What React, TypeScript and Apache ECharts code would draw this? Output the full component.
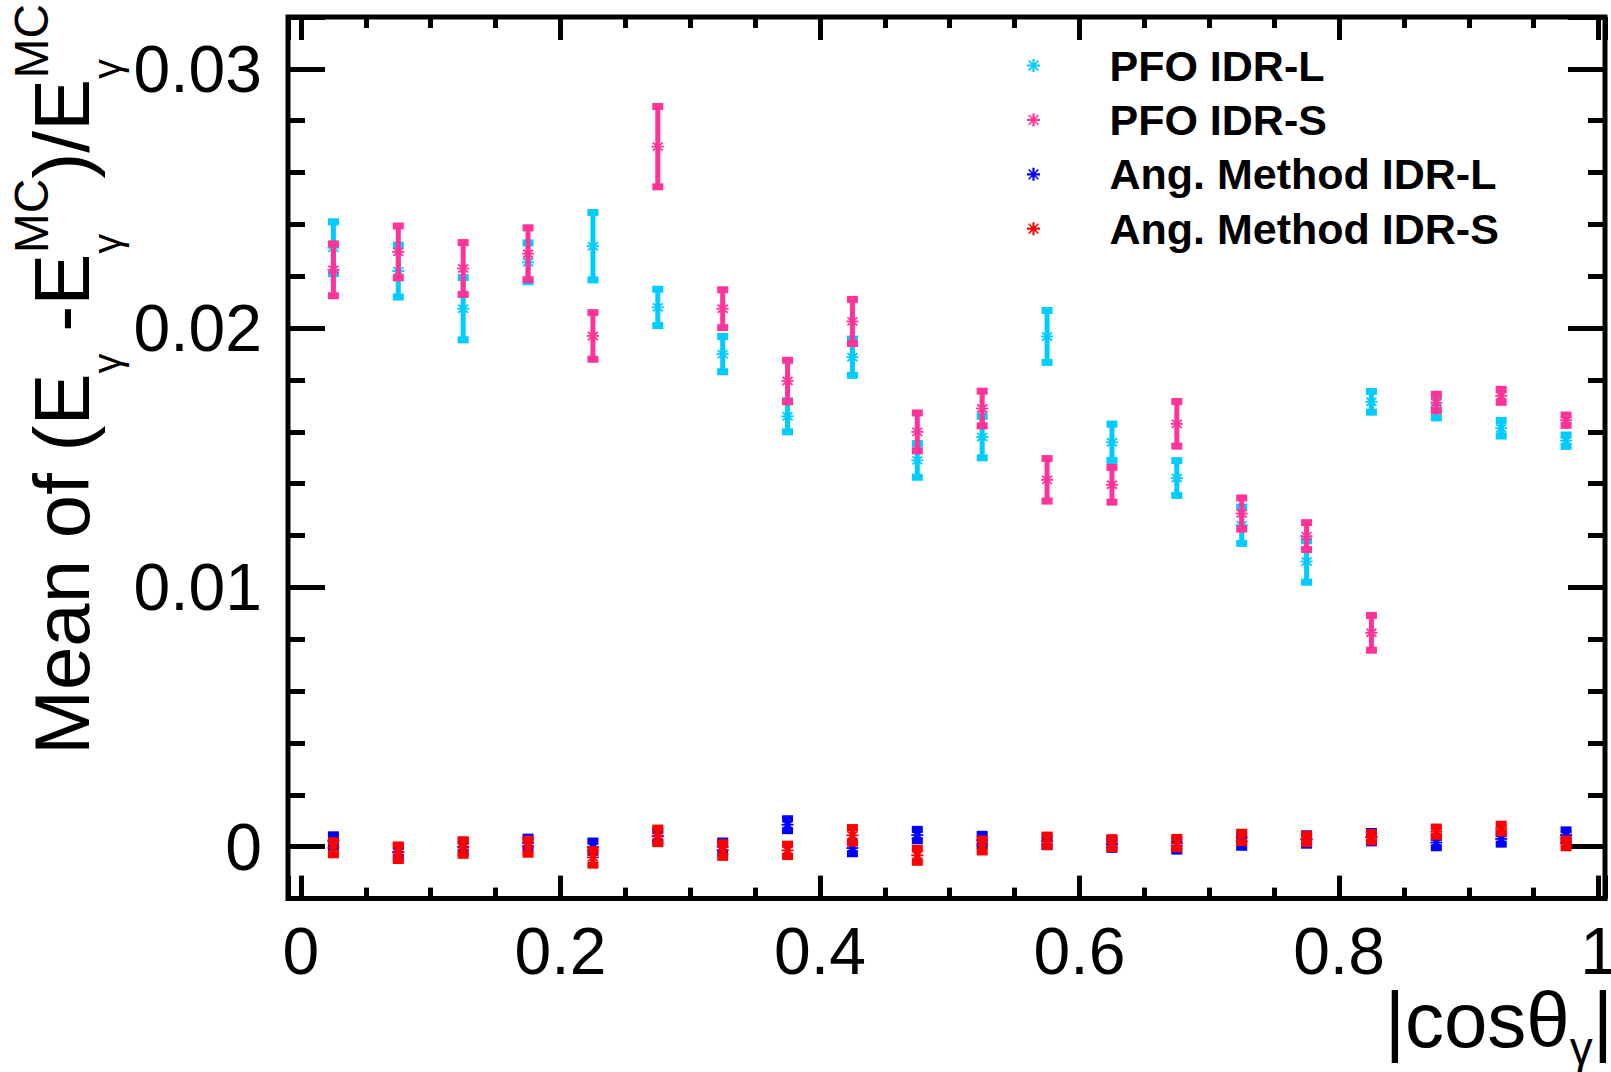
import React, { useEffect, useRef } from 'react';
import * as echarts from 'echarts';

const FONT = '"Liberation Sans", Arial, Helvetica, sans-serif';

const X_BINS = [0.025, 0.075, 0.125, 0.175, 0.225, 0.275, 0.325, 0.375, 0.425, 0.475, 0.525, 0.575, 0.625, 0.675, 0.725, 0.775, 0.825, 0.875, 0.925, 0.975];

const PFO_L_MEAN = [0.0231, 0.0222, 0.02075, 0.02254, 0.02316, 0.0208, 0.019, 0.0166, 0.01888, 0.0149, 0.0158, 0.01968, 0.0156, 0.01422, 0.0124, 0.011, 0.01716, 0.01694, 0.01614, 0.01566];
const PFO_L_ERR = [0.001, 0.001, 0.0012, 0.00075, 0.0013, 0.0007, 0.00068, 0.0006, 0.0007, 0.00065, 0.0008, 0.001, 0.0007, 0.00067, 0.0007, 0.0008, 0.0004, 0.0004, 0.0003, 0.00022];

const PFO_S_MEAN = [0.02225, 0.02294, 0.0223, 0.02287, 0.0197, 0.027, 0.02075, 0.01796, 0.02026, 0.016, 0.0169, 0.01415, 0.01396, 0.01631, 0.01285, 0.01198, 0.00825, 0.01713, 0.01739, 0.01645];
const PFO_S_ERR = [0.001, 0.001, 0.001, 0.001, 0.0009, 0.00155, 0.00073, 0.0008, 0.00085, 0.00073, 0.00067, 0.00082, 0.00067, 0.00086, 0.0006, 0.00052, 0.00067, 0.00032, 0.00025, 0.0002];

const ANG_L_MEAN = [0.00022, -0.0002, 0.0, 0.00015, 0.0, 0.0004, 0.0, 0.00085, -0.00005, 0.00045, 0.00026, 0.0002, 0.0001, 0.00005, 0.0002, 0.00028, 0.00037, 0.00016, 0.0003, 0.00045];
const ANG_L_ERR = [0.00024, 0.00022, 0.00022, 0.00022, 0.00022, 0.00022, 0.00022, 0.00023, 0.00022, 0.00022, 0.00022, 0.0002, 0.0002, 0.00022, 0.00022, 0.00022, 0.00022, 0.0002, 0.0002, 0.0002];

const ANG_S_MEAN = [-0.00004, -0.00023, -0.00003, 0.0, -0.00041, 0.00042, -0.00013, -0.00014, 0.00044, -0.00033, 0.00005, 0.00023, 0.00014, 0.00014, 0.00036, 0.0003, 0.00037, 0.00058, 0.0007, 0.00013];
const ANG_S_ERR = [0.00027, 0.0003, 0.0003, 0.00029, 0.0003, 0.0003, 0.00028, 0.00024, 0.0003, 0.00027, 0.00025, 0.00022, 0.00021, 0.00022, 0.0002, 0.00018, 0.00018, 0.00018, 0.00017, 0.00017];

const SERIES_NAMES = ['PFO IDR-L', 'PFO IDR-S', 'Ang. Method IDR-L', 'Ang. Method IDR-S'];
const SERIES_COLORS = ['#00ccff', '#ff3399', '#0000ff', '#ff0000'];

const X_MIN = -0.01;
const X_MAX = 1.005;
const Y_MIN = -0.002;
const Y_MAX = 0.032;

const STAR_ICON =
  'path://M0,5 L12,5 L12,7 L0,7 Z M5,0 L7,0 L7,12 L5,12 Z M1,2 L2,1 L11,10 L10,11 Z M10,1 L11,2 L2,11 L1,10 Z';

function renderErrorPoint(params: any, api: any) {
  const x = api.value(0);
  const y = api.value(1);
  const e = api.value(2);
  const c = api.coord([x, y]);
  const top = api.coord([x, y + e]);
  const bot = api.coord([x, y - e]);
  const color = api.visual('color');
  const capW = 11;
  const capH = 7;
  return {
    type: 'group',
    children: [
      { type: 'line', shape: { x1: c[0], y1: top[1], x2: c[0], y2: bot[1] }, style: { stroke: color, lineWidth: 5 } },
      { type: 'rect', shape: { x: c[0] - capW / 2, y: top[1] - capH / 2, width: capW, height: capH }, style: { fill: color } },
      { type: 'rect', shape: { x: c[0] - capW / 2, y: bot[1] - capH / 2, width: capW, height: capH }, style: { fill: color } },
      { type: 'line', shape: { x1: c[0] - 6, y1: c[1], x2: c[0] + 6, y2: c[1] }, style: { stroke: color, lineWidth: 1.8 } },
      { type: 'line', shape: { x1: c[0] - 5, y1: c[1] - 4, x2: c[0] + 5, y2: c[1] + 4 }, style: { stroke: color, lineWidth: 1.8 } },
      { type: 'line', shape: { x1: c[0] - 5, y1: c[1] + 4, x2: c[0] + 5, y2: c[1] - 4 }, style: { stroke: color, lineWidth: 1.8 } },
    ],
  };
}

function makeSeries(name: string, color: string, means: number[], errs: number[]) {
  return {
    type: 'custom',
    name,
    xAxisIndex: 0,
    yAxisIndex: 0,
    itemStyle: { color },
    encode: { x: 0, y: 1 },
    data: X_BINS.map((x, i) => [x, means[i], errs[i]]),
    renderItem: renderErrorPoint,
    clip: false,
  };
}

const tickStyle = { color: '#000', width: 5 };

function niceLabel(step: number) {
  return (v: number) => {
    const k = v / step;
    if (v < -1e-9 || Math.abs(k - Math.round(k)) > 1e-6) return '';
    return String(Math.round(k) * step).replace(/(\.\d*?[1-9])0+$/, '$1');
  };
}

function xAxisCfg(position: 'bottom' | 'top', labels: boolean) {
  return {
    type: 'value',
    position,
    min: X_MIN,
    max: X_MAX,
    splitNumber: 5,
    axisLine: { show: false, onZero: false },
    splitLine: { show: false },
    axisTick: { show: true, inside: true, length: 23, lineStyle: tickStyle },
    minorTick: { show: true, splitNumber: 4, length: 11, lineStyle: tickStyle },
    axisLabel: {
      show: labels,
      showMinLabel: false,
      showMaxLabel: false,
      formatter: (v: number) => {
        const k = v / 0.2;
        if (v < -1e-9 || Math.abs(k - Math.round(k)) > 1e-6) return '';
        return String(Math.round(k * 2) / 10);
      },
      fontSize: 66,
      fontFamily: FONT,
      color: '#000',
      margin: 19,
    },
  };
}

function yAxisCfg(position: 'left' | 'right', labels: boolean) {
  return {
    type: 'value',
    position,
    min: Y_MIN,
    max: Y_MAX,
    splitNumber: 4,
    axisLine: { show: false, onZero: false },
    splitLine: { show: false },
    axisTick: { show: true, inside: true, length: 37, lineStyle: tickStyle },
    minorTick: { show: true, splitNumber: 5, length: 17, lineStyle: tickStyle },
    axisLabel: {
      show: labels,
      showMinLabel: false,
      showMaxLabel: false,
      formatter: (v: number) => {
        const k = v / 0.01;
        if (v < -1e-9 || Math.abs(k - Math.round(k)) > 1e-6) return '';
        return String(Math.round(k) / 100);
      },
      fontSize: 66,
      fontFamily: FONT,
      color: '#000',
      margin: 26,
    },
  };
}

export default function App() {
  const ref = useRef<HTMLDivElement>(null);
  useEffect(() => {
    if (!ref.current) return;
    const chart = echarts.init(ref.current, null, { renderer: 'svg' });
    const option: any = {
      animation: false,
      backgroundColor: '#fff',
      grid: {
        left: 288,
        top: 17,
        right: 6,
        bottom: 173.4,
        show: true,
        borderWidth: 5,
        borderColor: '#000',
        backgroundColor: 'transparent',
        containLabel: false,
        outerBoundsMode: 'none',
      },
      xAxis: [xAxisCfg('bottom', true), xAxisCfg('top', false)],
      yAxis: [yAxisCfg('left', true), yAxisCfg('right', false)],
      legend: {
        orient: 'vertical',
        left: 1027,
        top: 44,
        padding: 0,
        itemWidth: 142,
        itemHeight: 13,
        itemGap: 11.4,
        selectedMode: false,
        textStyle: { fontSize: 43, fontWeight: 'bold', fontFamily: FONT, color: '#000', lineHeight: 43 },
        data: SERIES_NAMES.map((n) => ({ name: n, icon: STAR_ICON })),
      },
      graphic: [
        {
          type: 'text',
          x: 62,
          y: 755,
          rotation: Math.PI / 2,
          style: {
            text: '{m|Mean of (E}{sub|γ}{m| -E}{subs|γ}{sup|MC}{m|)/E}{subs|γ}{sup|MC}',
            align: 'left',
            verticalAlign: 'middle',
            fill: '#000',
            rich: {
              m: { fontSize: 78, lineHeight: 150, fontFamily: FONT, fill: '#000' },
              sub: { fontSize: 40, lineHeight: 40, height: 60, verticalAlign: 'bottom', fontFamily: FONT, fill: '#000' },
              subs: { fontSize: 40, lineHeight: 40, height: 60, width: 0.5, verticalAlign: 'bottom', fontFamily: FONT, fill: '#000' },
              sup: { fontSize: 48, lineHeight: 48, height: 88, verticalAlign: 'top', fontFamily: FONT, fill: '#000' },
            },
          },
        },
        {
          type: 'text',
          x: 1613,
          y: 1020,
          style: {
            text: '{m||cosθ}{sub|γ}{m||}',
            align: 'right',
            verticalAlign: 'middle',
            fill: '#000',
            rich: {
              m: { fontSize: 78, lineHeight: 100, fontFamily: FONT, fill: '#000' },
              sub: { fontSize: 46, lineHeight: 46, height: 44, verticalAlign: 'bottom', fontFamily: FONT, fill: '#000' },
            },
          },
        },
      ],
      series: [
        makeSeries(SERIES_NAMES[0], SERIES_COLORS[0], PFO_L_MEAN, PFO_L_ERR),
        makeSeries(SERIES_NAMES[1], SERIES_COLORS[1], PFO_S_MEAN, PFO_S_ERR),
        makeSeries(SERIES_NAMES[2], SERIES_COLORS[2], ANG_L_MEAN, ANG_L_ERR),
        makeSeries(SERIES_NAMES[3], SERIES_COLORS[3], ANG_S_MEAN, ANG_S_ERR),
      ],
    };
    chart.setOption(option);
    return () => chart.dispose();
  }, []);
  return (
    <div
      ref={ref}
      style={{ position: 'absolute', left: 0, top: 0, width: 1611, height: 1072, background: '#fff' }}
    />
  );
}
